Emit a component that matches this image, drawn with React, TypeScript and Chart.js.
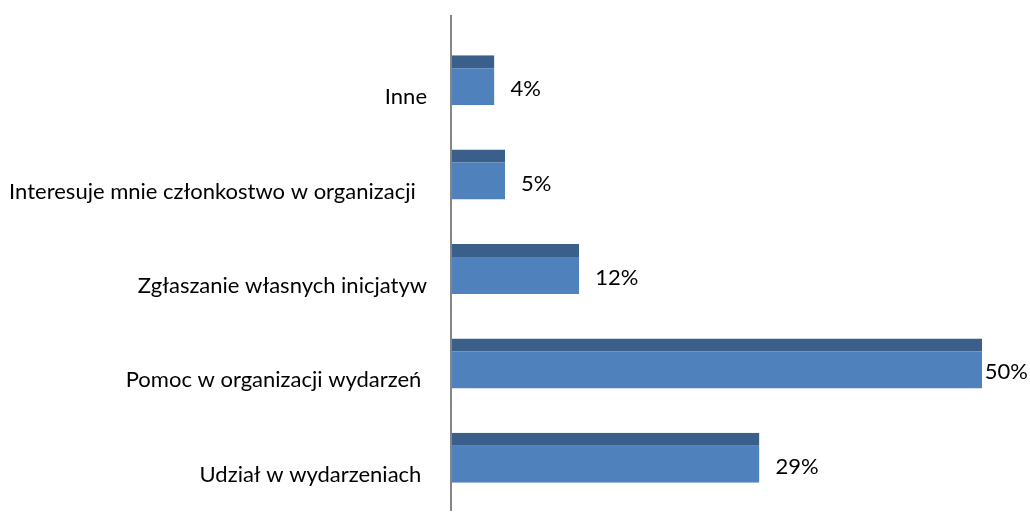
import React, { useEffect, useRef } from "react";
import { Chart, registerables } from "chart.js";

Chart.register(...registerables);

const categories = [
  "Inne",
  "Interesuje mnie członkostwo w organizacji  ",
  "Zgłaszanie własnych inicjatyw",
  "Pomoc w organizacji wydarzeń ",
  "Udział w wydarzeniach ",
];
const values = [4, 5, 12, 50, 29];
const valueLabels = ["4%", "5%", "12%", "50%", "29%"];

const FONT = "Lato, 'Open Sans', sans-serif";
const FONT_SIZE = 22;

const axisLinePlugin = {
  id: "axisLine",
  beforeDatasetsDraw(chart: any) {
    const { ctx, chartArea } = chart;
    const x = chart.scales.x.getPixelForValue(0) - 1;
    ctx.save();
    ctx.strokeStyle = "#868686";
    ctx.lineWidth = 2;
    ctx.beginPath();
    ctx.moveTo(x, chartArea.top - 18);
    ctx.lineTo(x, chartArea.bottom + 6);
    ctx.stroke();
    ctx.restore();
  },
};

const valueLabelPlugin = {
  id: "valueLabels",
  afterDatasetsDraw(chart: any) {
    const { ctx } = chart;
    const meta = chart.getDatasetMeta(0);
    ctx.save();
    ctx.font = `${FONT_SIZE}px ${FONT}`;
    ctx.fillStyle = "#000000";
    ctx.textBaseline = "middle";
    ctx.textAlign = "left";
    meta.data.forEach((bar: any, i: number) => {
      const { x, y } = bar.getProps(["x", "y"], true);
      const text = valueLabels[i];
      const w = ctx.measureText(text).width;
      const tx = Math.min(x + 16, chart.width - w - 2);
      ctx.fillText(text, tx, y + 9);
    });
    ctx.restore();
  },
};

export default function App() {
  const ref = useRef<HTMLCanvasElement>(null);
  useEffect(() => {
    if (!ref.current) return;
    const chart = new Chart(ref.current, {
      type: "bar",
      data: {
        labels: categories,
        datasets: [
          {
            data: values,
            backgroundColor: "#4F81BD",
            borderColor: "#3A5F8B",
            borderWidth: { top: 13, right: 0, bottom: 0, left: 0 },
            borderSkipped: false,
            categoryPercentage: 0.53,
            barPercentage: 1,
          },
        ],
      },
      options: {
        indexAxis: "y",
        responsive: false,
        animation: false,
        layout: { padding: { top: 33, bottom: 10, right: 48, left: 0 } },
        plugins: { legend: { display: false }, tooltip: { enabled: false } },
        scales: {
          x: { type: "linear", min: 0, max: 50, display: false },
          y: {
            type: "category",
            grid: { display: false, drawTicks: false },
            border: { display: false },
            ticks: {
              padding: 25,
              labelOffset: 17,
              color: "#000000",
              font: { family: FONT, size: FONT_SIZE },
            },
            afterFit: (s: any) => {
              s.width = 452;
              s.paddingTop = 0;
              s.paddingBottom = 0;
            },
          },
        },
      },
      plugins: [axisLinePlugin, valueLabelPlugin],
    } as any);
    return () => chart.destroy();
  }, []);
  return (
    <div style={{ position: "fixed", left: 0, top: 0, width: 1030, height: 515, background: "#fff" }}>
      <canvas ref={ref} width={1030} height={515} style={{ display: "block" }} />
    </div>
  );
}
